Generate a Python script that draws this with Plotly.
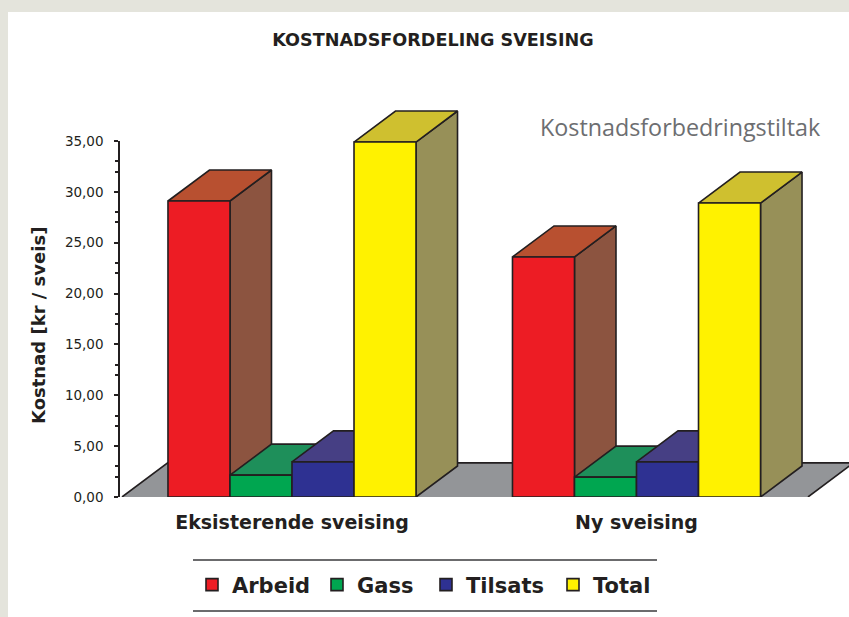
import plotly.graph_objects as go

W, H = 849, 617
L, R, T, B = 120, 0, 90, 120

categories = ["Eksisterende sveising", "Ny sveising"]
series = ["Arbeid", "Gass", "Tilsats", "Total"]
arbeid = [29.1, 23.6]
gass = [2.15, 1.95]
tilsats = [3.45, 3.45]
total = [34.9, 28.9]
values = [arbeid, gass, tilsats, total]

major_ticks = [0, 5, 10, 15, 20, 25, 30, 35]
major_labels = ["0,00", "5,00", "10,00", "15,00", "20,00", "25,00", "30,00", "35,00"]
minor_ticks = [2, 3, 7, 8, 12, 13, 17, 18, 22, 23, 27, 28, 32, 33]

front = ["#ED1C24", "#00A650", "#2E3192", "#FFF200"]
side = ["#8C5440", "#1E8F5A", "#463F84", "#979058"]
top = ["#B85030", "#1E8F5A", "#463F84", "#CFC02F"]
INK = "#231F20"
FLOOR = "#939598"
legend_left_px = [192, 317, 426, 553]

# axis scale
PX_X = 344.5
X0 = -(292 - L) / PX_X
X1 = (W - 292) / PX_X
plot_h = H - T - B
dom = (497 - 141) / plot_h
Y_MAX = 35 / dom
BW = 0.18
DX, DY = 41.5 / PX_X, 3.05
FONT = "DejaVu Sans"

fig = go.Figure()

def face(xs, ys, color, width=1.6):
    fig.add_trace(go.Scatter(x=xs, y=ys, mode="lines", fill="toself", fillcolor=color,
                             line=dict(color=INK, width=width), showlegend=False,
                             hoverinfo="skip", xaxis="x", yaxis="y"))

# floor
fx0, fx1 = (122 - 292) / PX_X, (808 - 292) / PX_X
face([fx0, fx0 + DX * 1.1, fx1 + DX * 1.1, fx1], [0, DY * 1.1, DY * 1.1, 0], FLOOR)

# depth faces behind the bars, from the same values
for g in range(len(categories)):
    for s in range(len(series)):
        v = values[s][g]
        a = g - 2 * BW + s * BW
        b = a + BW
        face([b, b + DX, b + DX, b, b], [0, DY, v + DY, v, 0], side[s])
        face([a, b, b + DX, a + DX, a], [v, v, v + DY, v + DY, v], top[s])

legend_ids = ["legend", "legend2", "legend3", "legend4"]

# bar fronts
for s, name in enumerate(series):
    fig.add_trace(go.Bar(x=[0, 1], y=values[s], name=name, legend=legend_ids[s],
                         marker=dict(color=front[s], line=dict(color=INK, width=1.6)),
                         xaxis="x2", yaxis="y2", hoverinfo="skip"))

def px(x):
    return (x - L) / (W - L - R)

def py(y):
    return 1 - (y - T) / plot_h

shapes = [
    dict(type="rect", xref="paper", yref="paper", x0=px(8), x1=px(W), y0=py(H), y1=py(12),
         fillcolor="white", line_width=0, layer="below"),
    dict(type="line", xref="paper", yref="paper", x0=px(193), x1=px(657), y0=py(560), y1=py(560),
         line=dict(color="#3A3A3C", width=1.6)),
    dict(type="line", xref="paper", yref="paper", x0=px(193), x1=px(657), y0=py(611), y1=py(611),
         line=dict(color="#3A3A3C", width=1.6)),
]

fig.update_layout(
    width=W, height=H, margin=dict(l=L, r=R, t=T, b=B, autoexpand=False),
    paper_bgcolor="#E4E4DC", plot_bgcolor="rgba(0,0,0,0)",
    barmode="group", bargap=0.28, bargroupgap=0,
    font=dict(family=FONT, color=INK),
    shapes=shapes,
    title=dict(text="<b>KOSTNADSFORDELING SVEISING</b>", x=433 / W, xanchor="center",
               y=1 - 40 / H, yanchor="middle", font=dict(size=17.6, family=FONT, color=INK)),
    xaxis=dict(range=[X0, X1], domain=[0, 1], visible=False, fixedrange=True),
    yaxis=dict(range=[0, Y_MAX], domain=[0, 1], visible=False, fixedrange=True),
    xaxis2=dict(range=[X0, X1], domain=[0, 1], anchor="y2", tickvals=[0, 1],
                ticktext=["<b>%s</b>" % c for c in categories], ticks="", showline=False, showgrid=False,
                zeroline=False, tickfont=dict(size=19, family=FONT), ticklabelstandoff=12, fixedrange=True),
    yaxis2=dict(range=[0, 35], domain=[0, dom], anchor="x2", tickvals=major_ticks, ticktext=major_labels,
                ticks="outside", ticklen=4, tickwidth=1.5, tickcolor=INK, showline=True, linecolor=INK, linewidth=1.5,
                showgrid=False, zeroline=False, tickfont=dict(size=13.5, family=FONT), ticklabelstandoff=8,
                minor=dict(tickvals=minor_ticks, ticks="outside", ticklen=3, tickwidth=1.5, tickcolor=INK, showgrid=False),
                fixedrange=True),
    annotations=[
        dict(text="Kostnadsforbedringstiltak", xref="paper", yref="paper", x=px(680), y=py(127),
             xanchor="center", yanchor="middle", showarrow=False,
             font=dict(size=23.3, family="Open Sans", color="#6D6E71")),
        dict(text="<b>Kostnad [kr / sveis]</b>", xref="paper", yref="paper", x=px(38), y=py(326),
             xanchor="center", yanchor="middle", textangle=-90, showarrow=False,
             font=dict(size=18, family=FONT, color=INK)),
    ],
)

for lid, left in zip(legend_ids, legend_left_px):
    fig.update_layout({lid: dict(orientation="h", x=px(left), xanchor="left", y=py(585), yanchor="middle",
                                 font=dict(size=21, family=FONT, weight="bold"), bgcolor="rgba(0,0,0,0)",
                                 itemclick=False, itemdoubleclick=False)})

fig.write_html("out.html", post_script="document.body.style.margin='0';", config={"displayModeBar": False})
